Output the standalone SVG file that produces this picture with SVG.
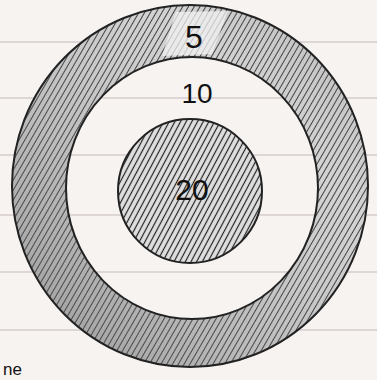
<svg xmlns="http://www.w3.org/2000/svg" width="377" height="380" viewBox="0 0 377 380">
  <style>
    .paper-line { stroke: #d6cccd; stroke-width: 1.5; }
    .outline { fill: none; stroke: #222; stroke-width: 2; }
    .label { font-family: "Liberation Sans", "DejaVu Sans", sans-serif; fill: #111; text-anchor: middle; }
  </style>
  <defs>
    <pattern id="hatch" width="5" height="5" patternUnits="userSpaceOnUse" patternTransform="rotate(30)">
      <rect width="5" height="5" fill="#d6d6d6"/>
      <line x1="1.5" y1="0" x2="1.5" y2="5" stroke="#3a3a3a" stroke-width="1"/>
    </pattern>
    <pattern id="hatch2" width="5" height="5" patternUnits="userSpaceOnUse" patternTransform="rotate(28)">
      <rect width="5" height="5" fill="#e0e0e0"/>
      <line x1="1.5" y1="0" x2="1.5" y2="5" stroke="#222" stroke-width="1.2"/>
    </pattern>
    <linearGradient id="shade" x1="0" y1="1" x2="1" y2="0">
      <stop offset="0" stop-color="#555" stop-opacity="0.5"/>
      <stop offset="0.45" stop-color="#777" stop-opacity="0.2"/>
      <stop offset="0.7" stop-color="#999" stop-opacity="0.05"/>
      <stop offset="1" stop-color="#666" stop-opacity="0.3"/>
    </linearGradient>
  </defs>
  <rect width="377" height="380" fill="#f6f3f1"/>
  <g id="paper">
    <line class="paper-line" x1="0" y1="42" x2="377" y2="42"/>
    <line class="paper-line" x1="0" y1="98" x2="377" y2="98"/>
    <line class="paper-line" x1="0" y1="155" x2="377" y2="155"/>
    <line class="paper-line" x1="0" y1="215" x2="377" y2="215"/>
    <line class="paper-line" x1="0" y1="272" x2="377" y2="272"/>
    <line class="paper-line" x1="0" y1="330" x2="377" y2="330"/>
  </g>
  <g id="outer-ring">
    <path fill-rule="evenodd" fill="url(#hatch)" d="M12,186 A178,181 0 1,0 368,186 A178,181 0 1,0 12,186 Z M66,188 A126,131 0 1,1 318,188 A126,131 0 1,1 66,188 Z"/>
    <path fill-rule="evenodd" fill="url(#shade)" d="M12,186 A178,181 0 1,0 368,186 A178,181 0 1,0 12,186 Z M66,188 A126,131 0 1,1 318,188 A126,131 0 1,1 66,188 Z"/>
    <path fill="#f2f2f2" d="M176,12 L228,11 L212,54 L162,56 Z" opacity="0.75"/>
    <ellipse class="outline" cx="190" cy="186" rx="178" ry="181"/>
    <ellipse class="outline" cx="192" cy="188" rx="126" ry="131" stroke-width="1.8"/>
  </g>
  <g id="inner-circle">
    <circle cx="190" cy="191" r="72" fill="url(#hatch2)"/>
    <circle class="outline" cx="190" cy="191" r="72"/>
  </g>
  <g id="labels">
    <text class="label" x="194" y="48" font-size="32">5</text>
    <text class="label" x="197" y="103" font-size="28">10</text>
    <text class="label" x="192" y="200" font-size="30">20</text>
    <text class="label" x="3" y="375" font-size="17" style="text-anchor:start">ne</text>
  </g>
</svg>
